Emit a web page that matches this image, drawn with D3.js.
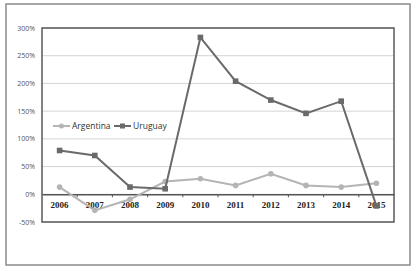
<!DOCTYPE html>
<html lang="es">
<head>
    <meta charset="UTF-8">
    <title>Argentina vs Uruguay</title>
    <script src="https://d3js.org/d3.v7.min.js"></script>
    <style>
        body { margin: 0; background: #fff; }
        .ylab { font-family: "Open Sans", "DejaVu Sans", sans-serif; font-size: 7px; fill: #555; }
        .xlab { font-family: "Liberation Serif", serif; font-size: 9px; font-weight: bold; fill: #222; }
        .leg { font-family: "Open Sans", "DejaVu Sans", sans-serif; font-size: 8.5px; fill: #333; }
    </style>
</head>
<body>
    <svg width="416" height="271"></svg>
    <script>
        const years = ["2006", "2007", "2008", "2009", "2010", "2011", "2012", "2013", "2014", "2015"];
        const argentina = [13, -29, -9, 23, 28, 16, 37, 16, 13, 20];
        const uruguay = [79, 70, 13, 10, 283, 204, 170, 146, 168, -21];
        const yTicks = [-50, 0, 50, 100, 150, 200, 250, 300];

        const svg = d3.select("svg");
        const plotLeft = 42, plotRight = 394, plotTop = 28, plotBottom = 222;

        // outer frame
        svg.append("rect").attr("x", 6).attr("y", 4).attr("width", 404).attr("height", 261)
            .attr("fill", "none").attr("stroke", "#8a8a8a").attr("stroke-width", 1.5);

        const x = d3.scaleBand().domain(years).range([plotLeft, plotRight]);
        const y = d3.scaleLinear().domain([-50, 300]).range([plotBottom, plotTop]);

        // gridlines
        svg.append("g").selectAll("line").data(yTicks).enter().append("line")
            .attr("x1", plotLeft).attr("x2", plotRight)
            .attr("y1", d => y(d)).attr("y2", d => y(d))
            .attr("stroke", "#d4d4d4").attr("stroke-width", 1);

        // plot frame
        svg.append("rect").attr("x", plotLeft).attr("y", plotTop)
            .attr("width", plotRight - plotLeft).attr("height", plotBottom - plotTop)
            .attr("fill", "none").attr("stroke", "#5a5a5a").attr("stroke-width", 1.5);

        // y labels
        svg.append("g").selectAll("text").data(yTicks).enter().append("text")
            .attr("class", "ylab")
            .attr("x", 35).attr("y", d => y(d) + 2.5)
            .attr("text-anchor", "end")
            .text(d => d + "%");

        // x axis at 0%
        const xAxis = d3.axisBottom(x).tickSize(0).tickPadding(7);
        const gx = svg.append("g").attr("transform", `translate(0,${y(0)})`).call(xAxis);
        gx.attr("font-family", null).attr("font-size", null);
        gx.select(".domain").attr("stroke", "#555").attr("stroke-width", 1.5);
        gx.selectAll("text").attr("class", "xlab");
        gx.selectAll(".bnd").data(years.slice(1)).enter().append("line")
            .attr("x1", d => x(d)).attr("x2", d => x(d))
            .attr("y1", 0).attr("y2", 3)
            .attr("stroke", "#555").attr("stroke-width", 1);

        const line = d3.line().x((d, i) => x(years[i]) + x.bandwidth() / 2).y(d => y(d));

        // Argentina
        svg.append("path").datum(argentina).attr("d", line)
            .attr("fill", "none").attr("stroke", "#b4b4b4").attr("stroke-width", 2);
        svg.append("g").selectAll("circle").data(argentina).enter().append("circle")
            .attr("cx", (d, i) => x(years[i]) + x.bandwidth() / 2).attr("cy", d => y(d))
            .attr("r", 2.8).attr("fill", "#b4b4b4");

        // Uruguay
        svg.append("path").datum(uruguay).attr("d", line)
            .attr("fill", "none").attr("stroke", "#6a6a6a").attr("stroke-width", 2);
        svg.append("g").selectAll("rect").data(uruguay).enter().append("rect")
            .attr("x", (d, i) => x(years[i]) + x.bandwidth() / 2 - 2.8).attr("y", d => y(d) - 2.8)
            .attr("width", 5.6).attr("height", 5.6).attr("fill", "#6a6a6a");

        // legend
        const legend = [
            { name: "Argentina", color: "#b4b4b4", shape: "circle", x: 53 },
            { name: "Uruguay", color: "#6a6a6a", shape: "square", x: 114 }
        ];
        const ly = 126;
        legend.forEach(l => {
            svg.append("line").attr("x1", l.x).attr("x2", l.x + 17).attr("y1", ly).attr("y2", ly)
                .attr("stroke", l.color).attr("stroke-width", 2);
            if (l.shape === "circle") {
                svg.append("circle").attr("cx", l.x + 8.5).attr("cy", ly).attr("r", 2.5).attr("fill", l.color);
            } else {
                svg.append("rect").attr("x", l.x + 6).attr("y", ly - 2.5).attr("width", 5).attr("height", 5).attr("fill", l.color);
            }
            svg.append("text").attr("class", "leg").attr("x", l.x + 19).attr("y", ly + 3).text(l.name);
        });
    </script>
</body>
</html>
